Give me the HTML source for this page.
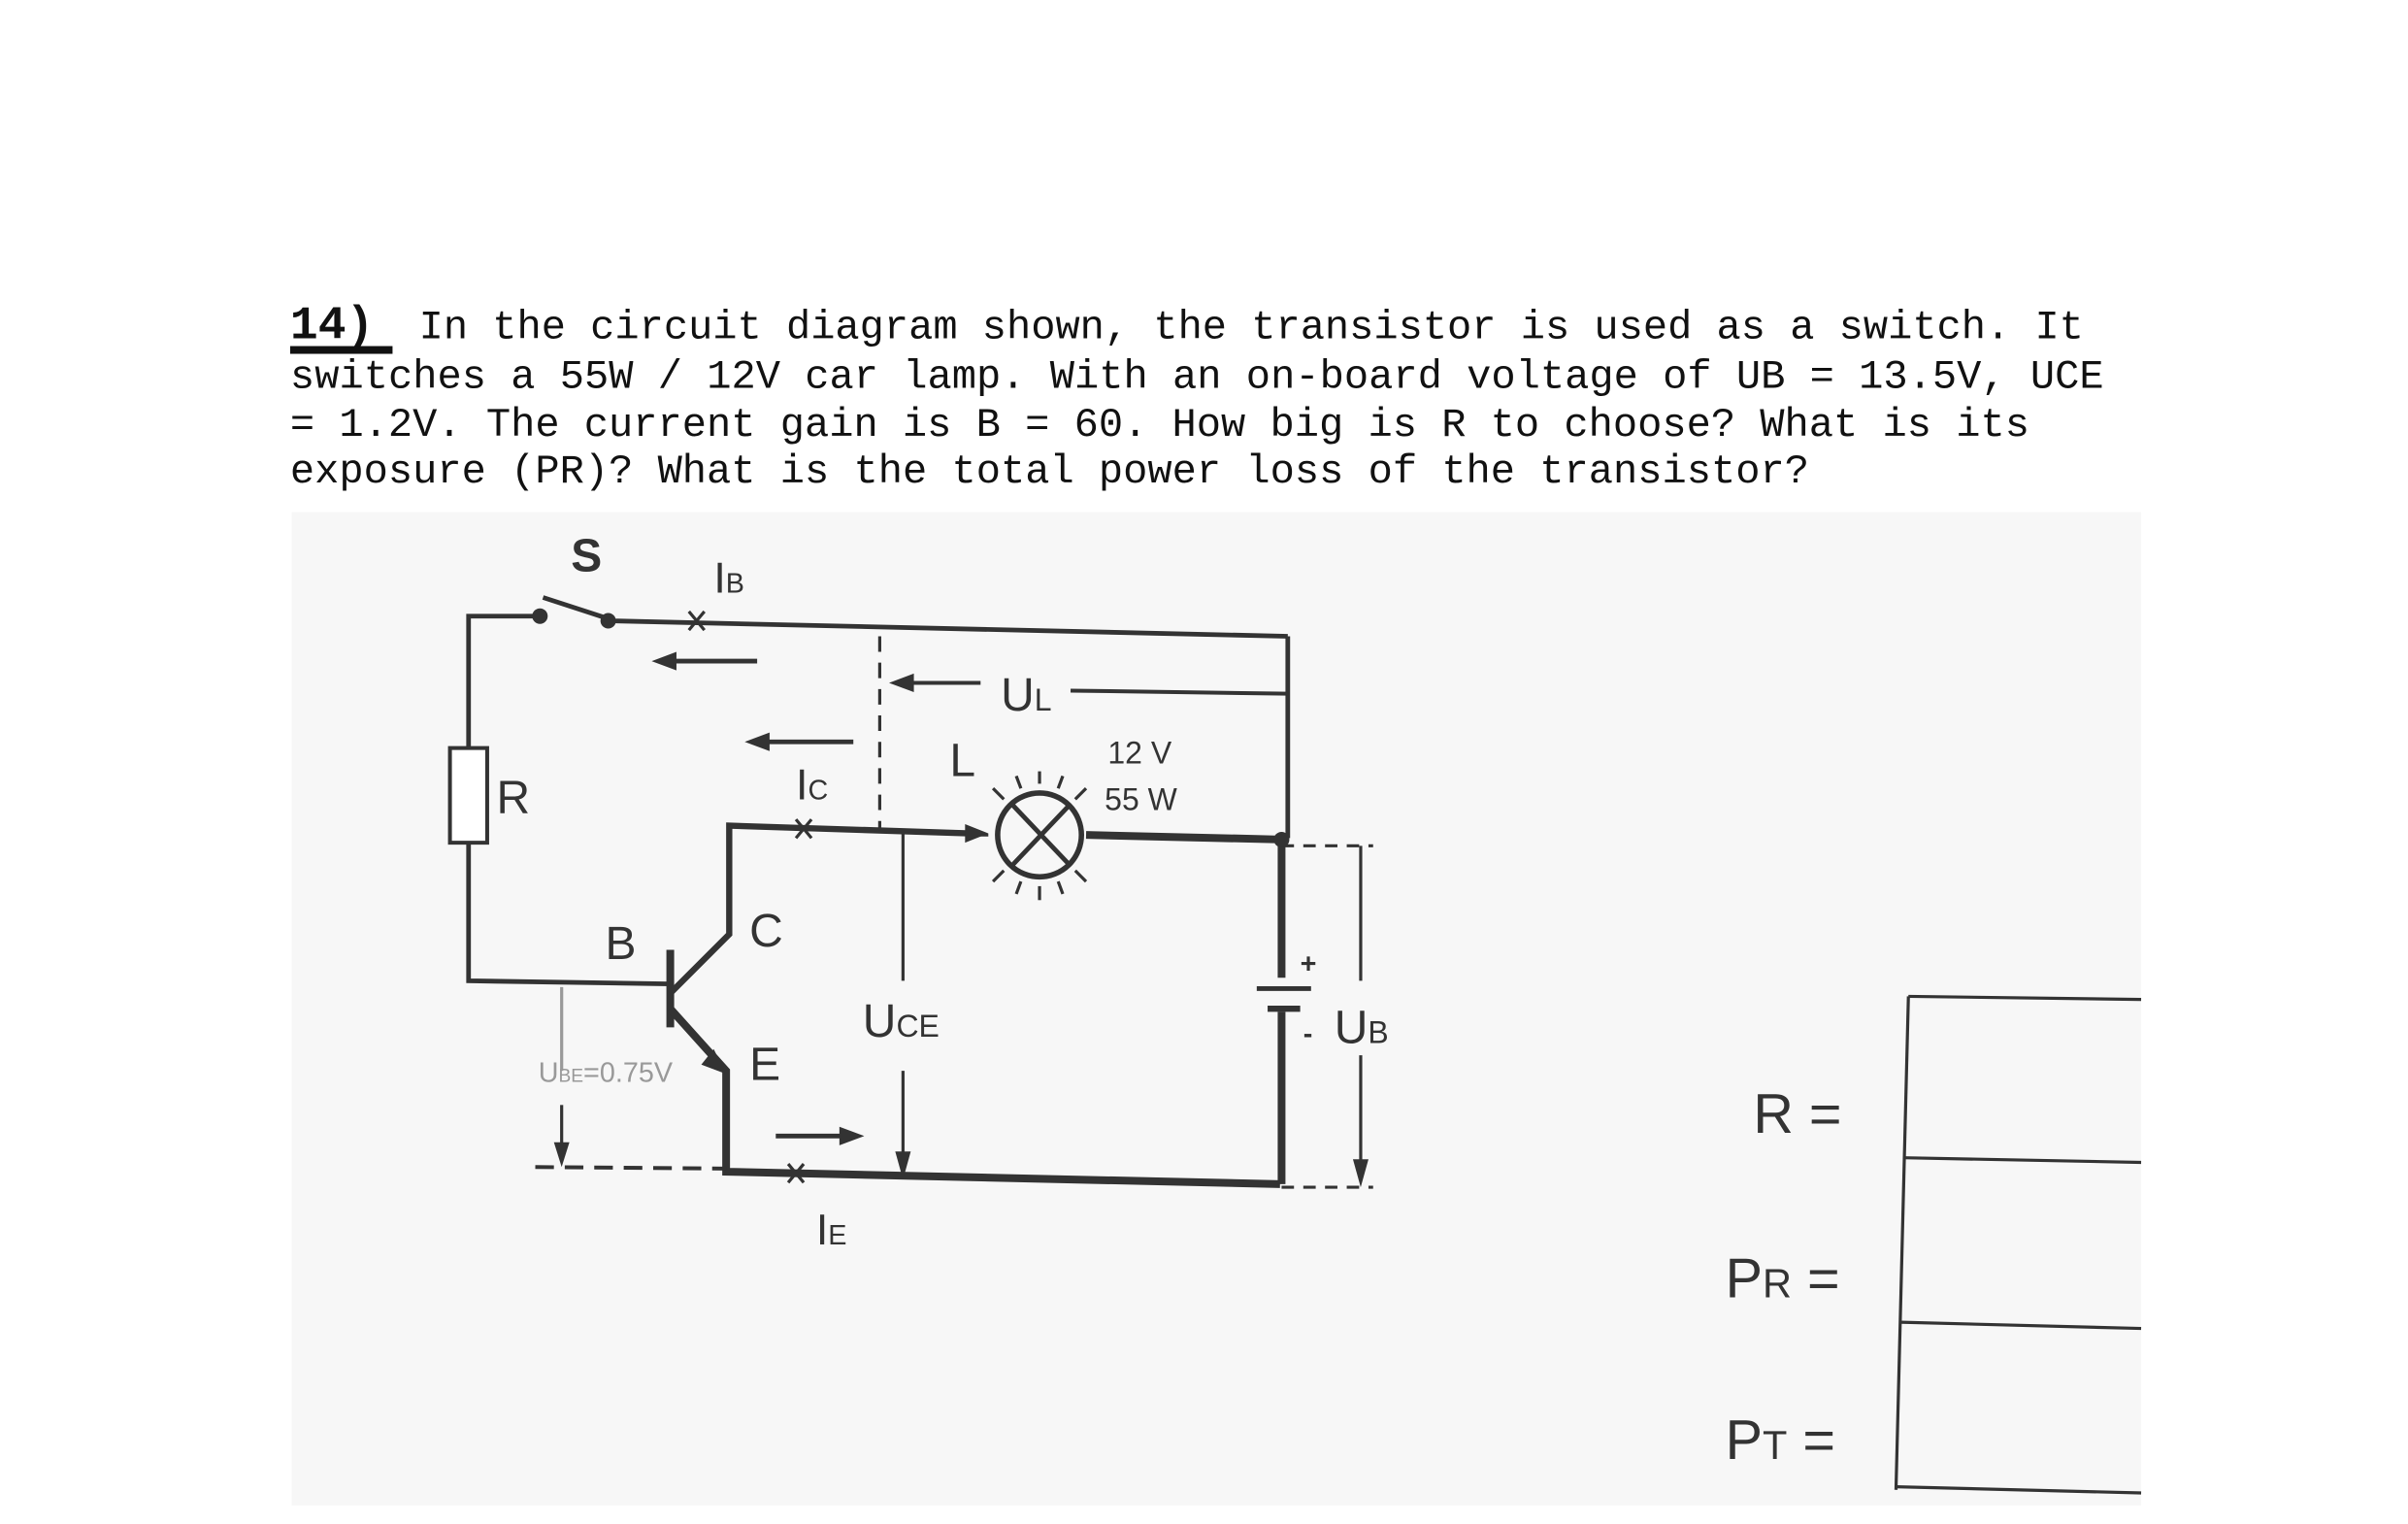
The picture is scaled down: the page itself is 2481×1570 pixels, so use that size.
<!DOCTYPE html>
<html><head><meta charset="utf-8"><style>html,body{margin:0;padding:0;background:#fff}svg{display:block}</style></head>
<body>
<svg width="2481" height="1570" viewBox="0 0 1552 982" preserveAspectRatio="none" xmlns="http://www.w3.org/2000/svg">
<rect x="0" y="0" width="1552" height="982" fill="#fff"/>
<rect x="188" y="330" width="1192" height="640" fill="#f7f7f7"/>
<g font-family="Liberation Mono, monospace" font-size="26" fill="#111">
<text x="187" y="218" font-weight="bold" font-size="30">14)</text>
<rect x="187" y="223" width="66" height="5" fill="#111"/>
<text x="270" y="218" textLength="1073" lengthAdjust="spacingAndGlyphs">In the circuit diagram shown, the transistor is used as a switch. It</text>
<text x="187" y="250" textLength="1169" lengthAdjust="spacingAndGlyphs">switches a 55W / 12V car lamp. With an on-board voltage of UB = 13.5V, UCE</text>
<text x="187" y="281" textLength="1121" lengthAdjust="spacingAndGlyphs">= 1.2V. The current gain is B = 60. How big is R to choose? What is its</text>
<text x="187" y="311" textLength="979" lengthAdjust="spacingAndGlyphs">exposure (PR)? What is the total power loss of the transistor?</text>
</g>
<g stroke="#333" fill="none" stroke-width="3">
<polyline points="348,397 302,397 302,482"/>
<rect x="290" y="482" width="24" height="61" stroke-width="2.5" fill="#fff"/>
<polyline points="302,543 302,632 432,634"/>
<line x1="350" y1="385" x2="390" y2="398"/>
<line x1="392" y1="400" x2="830" y2="410"/>
<line x1="830" y1="410" x2="830" y2="540"/>
<line x1="432" y1="612" x2="432" y2="662" stroke-width="5"/>
<polyline points="432,640 470,602 470,532 625,537" stroke-width="4"/>
<polyline points="432,650 468,690 468,755 825,763" stroke-width="5"/>
<line x1="700" y1="538" x2="828" y2="541" stroke-width="5"/>
<polyline points="826,541 826,630" stroke-width="5"/>
<polyline points="826,652 826,763" stroke-width="5"/>
<line x1="810" y1="637" x2="845" y2="637" stroke-width="3"/>
<line x1="817" y1="650" x2="838" y2="650" stroke-width="4"/>
<line x1="826" y1="545" x2="885" y2="545" stroke-dasharray="8,6" stroke-width="2"/>
<line x1="826" y1="765" x2="885" y2="765" stroke-dasharray="8,6" stroke-width="2"/>
<line x1="877" y1="545" x2="877" y2="632" stroke-width="2"/>
<line x1="877" y1="680" x2="877" y2="760" stroke-width="2"/>
<line x1="567" y1="410" x2="567" y2="535" stroke-dasharray="10,7" stroke-width="2"/>
<line x1="580" y1="440" x2="632" y2="440" stroke-width="2.5"/>
<line x1="690" y1="445" x2="830" y2="447" stroke-width="2.5"/>
<line x1="582" y1="537" x2="582" y2="632" stroke-width="2"/>
<line x1="582" y1="690" x2="582" y2="752" stroke-width="2"/>
<line x1="362" y1="636" x2="362" y2="690" stroke="#999" stroke-width="2"/>
<line x1="362" y1="712" x2="362" y2="748" stroke-width="2"/>
<line x1="345" y1="752" x2="468" y2="753" stroke-dasharray="12,7" stroke-width="2.5"/>
<line x1="488" y1="426" x2="430" y2="426" stroke-width="3"/>
<line x1="550" y1="478" x2="490" y2="478" stroke-width="3"/>
<line x1="500" y1="732" x2="545" y2="732" stroke-width="3"/>
<ellipse cx="670" cy="538" rx="27" ry="27" stroke-width="3.5"/>
<line x1="652" y1="518" x2="690" y2="558"/><line x1="652" y1="558" x2="690" y2="518"/>
<g stroke-width="2">
<line x1="670" y1="505" x2="670" y2="497"/><line x1="670" y1="571" x2="670" y2="580"/>
<line x1="637" y1="538" x2="628" y2="538"/><line x1="703" y1="538" x2="712" y2="538"/>
<line x1="647" y1="515" x2="640" y2="508"/><line x1="693" y1="515" x2="700" y2="508"/>
<line x1="647" y1="561" x2="640" y2="568"/><line x1="693" y1="561" x2="700" y2="568"/>
<line x1="658" y1="508" x2="655" y2="500"/><line x1="682" y1="508" x2="685" y2="500"/>
<line x1="658" y1="568" x2="655" y2="576"/><line x1="682" y1="568" x2="685" y2="576"/>
</g>
<line x1="1230" y1="642" x2="1222" y2="960" stroke-width="2"/>
<line x1="1230" y1="642" x2="1380" y2="644" stroke-width="2"/>
<line x1="1227" y1="746" x2="1380" y2="749" stroke-width="2"/>
<line x1="1225" y1="852" x2="1380" y2="856" stroke-width="2"/>
<line x1="1222" y1="958" x2="1380" y2="962" stroke-width="2"/>
</g>
<g fill="#333">
<circle cx="348" cy="397" r="5"/><circle cx="392" cy="400" r="5"/><circle cx="826" cy="541" r="5"/>
<polygon points="420,426 436,420 436,432"/>
<polygon points="480,478 496,472 496,484"/>
<polygon points="557,732 541,726 541,738"/>
<polygon points="573,440 589,434 589,446"/>
<polygon points="582,760 577,742 587,742"/>
<polygon points="877,765 872,747 882,747"/>
<polygon points="362,752 357,736 367,736"/>
<polygon points="468,692 452,686 460,676"/>
<polygon points="637,537 622,531 622,543"/>
</g>
<g stroke="#333" stroke-width="2">
<line x1="444" y1="394" x2="454" y2="406"/><line x1="454" y1="394" x2="444" y2="406"/>
<line x1="513" y1="528" x2="523" y2="540"/><line x1="523" y1="528" x2="513" y2="540"/>
<line x1="508" y1="750" x2="518" y2="762"/><line x1="518" y1="750" x2="508" y2="762"/>
</g>
<g font-family="Liberation Sans, sans-serif" fill="#333">
<text x="368" y="368" font-size="30" font-weight="bold">S</text>
<text x="460" y="382" font-size="28">I<tspan font-size="18">B</tspan></text>
<text x="320" y="524" font-size="30">R</text>
<text x="513" y="515" font-size="28">I<tspan font-size="18">C</tspan></text>
<text x="612" y="500" font-size="30">L</text>
<text x="714" y="492" font-size="20">12 V</text>
<text x="712" y="522" font-size="20">55 W</text>
<text x="390" y="618" font-size="30">B</text>
<text x="483" y="610" font-size="30">C</text>
<text x="483" y="696" font-size="30">E</text>
<text x="556" y="668" font-size="30">U<tspan font-size="20">CE</tspan></text>
<text x="645" y="458" font-size="30">U<tspan font-size="20">L</tspan></text>
<text x="860" y="672" font-size="30">U<tspan font-size="20">B</tspan></text>
<text x="838" y="627" font-size="18" font-weight="bold">+</text>
<text x="840" y="672" font-size="18" font-weight="bold">-</text>
<text x="347" y="697" font-size="18" fill="#999">U<tspan font-size="12">BE</tspan>=0.75V</text>
<text x="526" y="802" font-size="28">I<tspan font-size="18">E</tspan></text>
<text x="1130" y="730" font-size="36">R =</text>
<text x="1112" y="836" font-size="36">P<tspan font-size="26">R</tspan> =</text>
<text x="1112" y="940" font-size="36">P<tspan font-size="26">T</tspan> =</text>
</g>
</svg>
</body></html>
